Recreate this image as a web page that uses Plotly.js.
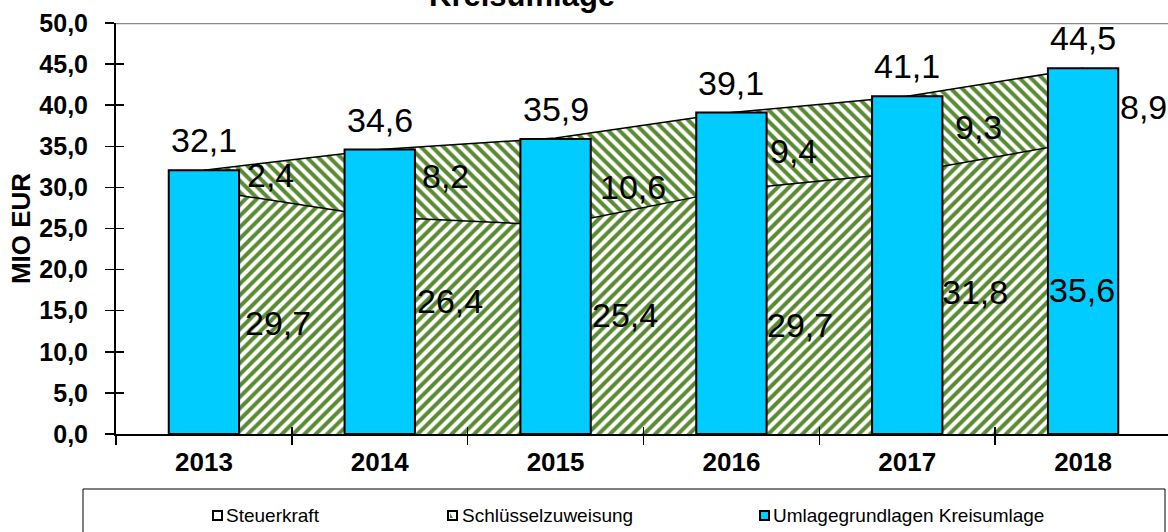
<!DOCTYPE html>
<html>
<head>
<meta charset="utf-8">
<script src="https://cdn.plot.ly/plotly-3.0.1.min.js"></script>
<style>
html, body { margin: 0; padding: 0; overflow: hidden; background: #fff; }
#chart { width: 1172px; height: 532px; }
</style>
</head>
<body>
<div id="chart"></div>
<script>
// ---- data ----
const years = ['2013', '2014', '2015', '2016', '2017', '2018'];
const steuerkraft = [29.7, 26.4, 25.4, 29.7, 31.8, 35.6];
const schluesselzuweisung = [2.4, 8.2, 10.6, 9.4, 9.3, 8.9];
const umlagegrundlagen = [32.1, 34.6, 35.9, 39.1, 41.1, 44.5];
const seriesNames = ['Steuerkraft', 'Schlüsselzuweisung', 'Umlagegrundlagen Kreisumlage'];
const chartTitle = 'Kreisumlage';
const yTitle = 'MIO EUR';

// ---- label placement nudges (pixels, styling only) ----
const lowerShiftX = [39, 35, 34, 34, 33, 34];
const lowerAnchor = ['left', 'left', 'left', 'left', 'left', 'right'];
const lowerShiftY = [-11, 25, 15, -13, 11, -2];
const upperShiftX = [41, 40, 42, 37, 46, 35];
const upperShiftY = [5, 7, -5, 0, 7, -2];

// ---- styling ----
const FONT = 'Arial, "Liberation Sans", sans-serif';
const GREEN = '#5a8a32';
const CYAN = '#00ccff';
const M = {l: 116, r: 1, t: 23, b: 98};
const W = 1172, Hh = 532;
const PW = W - M.l - M.r, PH = Hh - M.t - M.b;
const px2x = p => (p - M.l) / PW;
const py2y = p => (M.t + PH - p) / PH;
const fmt = v => v.toFixed(1).replace('.', ',');

const traces = [
  {
    type: 'scatter', x: years, y: steuerkraft, name: seriesNames[0],
    mode: 'lines', stackgroup: 'a', line: {color: '#000', width: 1.5},
    fillcolor: 'white',
    fillpattern: {shape: '/', fgcolor: GREEN, bgcolor: 'white', size: 8, solidity: 0.5},
    hoverinfo: 'skip', showlegend: false, xaxis: 'x', yaxis: 'y'
  },
  {
    type: 'scatter', x: years, y: schluesselzuweisung, name: seriesNames[1],
    mode: 'lines', stackgroup: 'a', line: {color: '#000', width: 1.5},
    fillcolor: 'white',
    fillpattern: {shape: '\\', fgcolor: GREEN, bgcolor: 'white', size: 8, solidity: 0.5},
    hoverinfo: 'skip', showlegend: false, xaxis: 'x', yaxis: 'y'
  },
  {
    type: 'bar', x: years, y: umlagegrundlagen, name: seriesNames[2],
    width: 0.4, marker: {color: CYAN, line: {color: '#000', width: 2}},
    hoverinfo: 'skip', showlegend: false, xaxis: 'x2', yaxis: 'y2'
  }
];

const annotations = [];
years.forEach((yr, i) => {
  // i is the category index of year yr on the category axis
  annotations.push({
    x: i, y: umlagegrundlagen[i], xref: 'x2', yref: 'y2', text: fmt(umlagegrundlagen[i]),
    showarrow: false, xanchor: 'center', yanchor: 'bottom', yshift: 9,
    font: {family: FONT, size: 34, color: '#000'}
  });
  annotations.push({
    x: i, y: steuerkraft[i] / 2, xref: 'x', yref: 'y', text: fmt(steuerkraft[i]),
    showarrow: false, xanchor: lowerAnchor[i], yanchor: 'middle',
    xshift: lowerShiftX[i], yshift: lowerShiftY[i],
    font: {family: FONT, size: 34, color: '#000'}
  });
  annotations.push({
    x: i, y: steuerkraft[i] + schluesselzuweisung[i] / 2, xref: 'x', yref: 'y',
    text: fmt(schluesselzuweisung[i]),
    showarrow: false, xanchor: 'left', yanchor: 'middle',
    xshift: upperShiftX[i], yshift: upperShiftY[i],
    font: {family: FONT, size: 34, color: '#000'}
  });
});
// title (cut off at top as in the original)
annotations.push({
  x: px2x(522), y: 1, xref: 'paper', yref: 'paper', text: '<b>' + chartTitle + '</b>',
  showarrow: false, xanchor: 'center', yanchor: 'bottom', yshift: 8,
  font: {family: FONT, size: 31, color: '#000'}
});

// custom legend
const legendText = [224, 460, 771];
const legendSym = [213, 448, 760];
const shapes = [
  {type: 'line', xref: 'paper', yref: 'y', x0: 0, x1: 1, y0: 50, y1: 50,
   line: {color: '#8a8a8a', width: 2.5}},
  {type: 'rect', xref: 'paper', yref: 'paper', x0: px2x(83), x1: px2x(1165),
   y0: py2y(489), y1: py2y(560), line: {color: '#000', width: 1}, fillcolor: 'rgba(0,0,0,0)'}
];
const symFill = ['white', 'white', CYAN];
seriesNames.forEach((n, i) => {
  annotations.push({
    x: px2x(legendText[i]), y: py2y(515), xref: 'paper', yref: 'paper', text: n,
    showarrow: false, xanchor: 'left', yanchor: 'middle',
    font: {family: FONT, size: 19, color: '#000'}
  });
  shapes.push({
    type: 'rect', xref: 'paper', yref: 'paper',
    x0: px2x(legendSym[i]), x1: px2x(legendSym[i] + 9),
    y0: py2y(511), y1: py2y(520),
    fillcolor: symFill[i], line: {color: '#000', width: 2}
  });
});
shapes.push({
  type: 'path', xref: 'paper', yref: 'paper',
  path: 'M ' + px2x(450) + ' ' + py2y(513) + ' L ' + px2x(450) + ' ' + py2y(518) +
        ' L ' + px2x(453) + ' ' + py2y(518) + ' Z',
  fillcolor: GREEN, line: {width: 0}
});

const layout = {
  width: W, height: Hh, margin: M,
  paper_bgcolor: 'white', plot_bgcolor: 'white',
  separators: ',.',
  showlegend: false,
  font: {family: FONT, color: '#000'},
  xaxis: {
    type: 'category', categoryorder: 'array', categoryarray: years,
    range: [-0.5, 5.5], showline: true, linecolor: '#000', linewidth: 2,
    ticks: 'outside', ticklen: 9, tickwidth: 1.5, tickcolor: '#000', tickson: 'boundaries',
    showgrid: false, zeroline: false, ticklabelstandoff: 4,
    tickfont: {family: FONT, size: 26, color: '#000', weight: 'bold'}
  },
  yaxis: {
    range: [0, 50], tick0: 0, dtick: 5, tickformat: '.1f',
    showline: true, linecolor: '#000', linewidth: 2,
    ticks: 'outside', ticklen: 9, tickwidth: 1.5, tickcolor: '#000',
    showgrid: false, zeroline: false, ticklabelstandoff: 12,
    tickfont: {family: FONT, size: 25, color: '#000', weight: 'bold'},
    title: {text: yTitle, standoff: 1, font: {family: FONT, size: 26, color: '#000', weight: 'bold'}}
  },
  xaxis2: {
    type: 'category', categoryorder: 'array', categoryarray: years,
    overlaying: 'x', anchor: 'y2', range: [-0.5, 5.5], showline: false,
    ticks: 'inside', ticklen: 7, tickwidth: 1.5, tickcolor: '#000', tickson: 'boundaries',
    showticklabels: false, showgrid: false, zeroline: false
  },
  yaxis2: {
    overlaying: 'y', anchor: 'x2', side: 'left', range: [0, 50], tick0: 0, dtick: 5,
    showline: false, ticks: 'inside', ticklen: 8, tickwidth: 1.5, tickcolor: '#000',
    showticklabels: false, showgrid: false, zeroline: false
  },
  annotations: annotations,
  shapes: shapes
};

Plotly.newPlot('chart', traces, layout, {staticPlot: true, displayModeBar: false});
</script>
</body>
</html>
